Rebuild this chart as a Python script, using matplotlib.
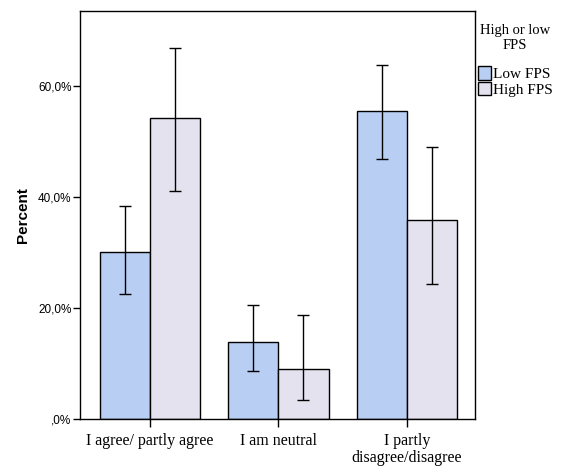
import matplotlib.pyplot as plt
import numpy as np
from matplotlib.ticker import FuncFormatter

categories = ['I agree/ partly agree', 'I am neutral', 'I partly\ndisagree/disagree']
series = ['Low FPS', 'High FPS']
low_fps = [30.1, 13.8, 55.5]
low_err_lo = [22.5, 8.7, 46.8]
low_err_hi = [38.3, 20.6, 63.8]
high_fps = [54.2, 9.0, 35.9]
high_err_lo = [41.1, 3.4, 24.4]
high_err_hi = [66.8, 18.7, 49.0]
colors = ['#b8cef3', '#e5e2ef']

fig = plt.figure(figsize=(5.66, 4.66), dpi=100)
ax = fig.add_axes([0.1413, 0.1009, 0.6979, 0.8755])

x = np.arange(len(categories))
w = 0.39
for vals, lo, hi, off, col, lab in [
        (low_fps, low_err_lo, low_err_hi, -w / 2, colors[0], series[0]),
        (high_fps, high_err_lo, high_err_hi, w / 2, colors[1], series[1])]:
    vals = np.array(vals)
    yerr = [vals - np.array(lo), np.array(hi) - vals]
    ax.bar(x + off, vals, w, color=col, edgecolor='black', linewidth=1.0,
           label=lab, zorder=2)
    ax.errorbar(x + off, vals, yerr=yerr, fmt='none', ecolor='black',
                elinewidth=1.0, capsize=4.3, capthick=1.0, zorder=3)

ax.set_xlim(-0.545, 2.53)
ax.set_ylim(0, 73.5)
ax.set_yticks([0, 20, 40, 60])
ax.yaxis.set_major_formatter(FuncFormatter(
    lambda v, p: ',0%' if v == 0 else ('%.1f%%' % v).replace('.', ',')))
ax.set_xticks(x)
ax.set_xticklabels(categories, family='Liberation Serif', fontsize=11.5,
                   linespacing=1.1)
for t in ax.get_yticklabels():
    t.set_family('Liberation Sans')
    t.set_fontsize(8.5)
ax.tick_params(axis='y', direction='out', length=5, width=1, pad=1)
ax.tick_params(axis='x', direction='out', length=6, width=1, pad=4)
for s in ax.spines.values():
    s.set_linewidth(1.0)
ax.set_ylabel('Percent', family='Liberation Sans', fontweight='bold',
              fontsize=11, labelpad=6)

leg = ax.legend(loc='upper left', bbox_to_anchor=(1.008, 0.968), frameon=False,
                title='High or low\nFPS', handlelength=0.85, handleheight=1.0,
                handletextpad=0.1, borderaxespad=0, borderpad=0,
                labelspacing=0.05,
                prop={'family': 'Liberation Serif', 'size': 11})
leg.get_title().set_family('Liberation Serif')
leg.get_title().set_fontsize(10.5)
leg.get_title().set_multialignment('center')
leg._legend_box.sep = 10

fig.savefig('out.png', dpi=100)
